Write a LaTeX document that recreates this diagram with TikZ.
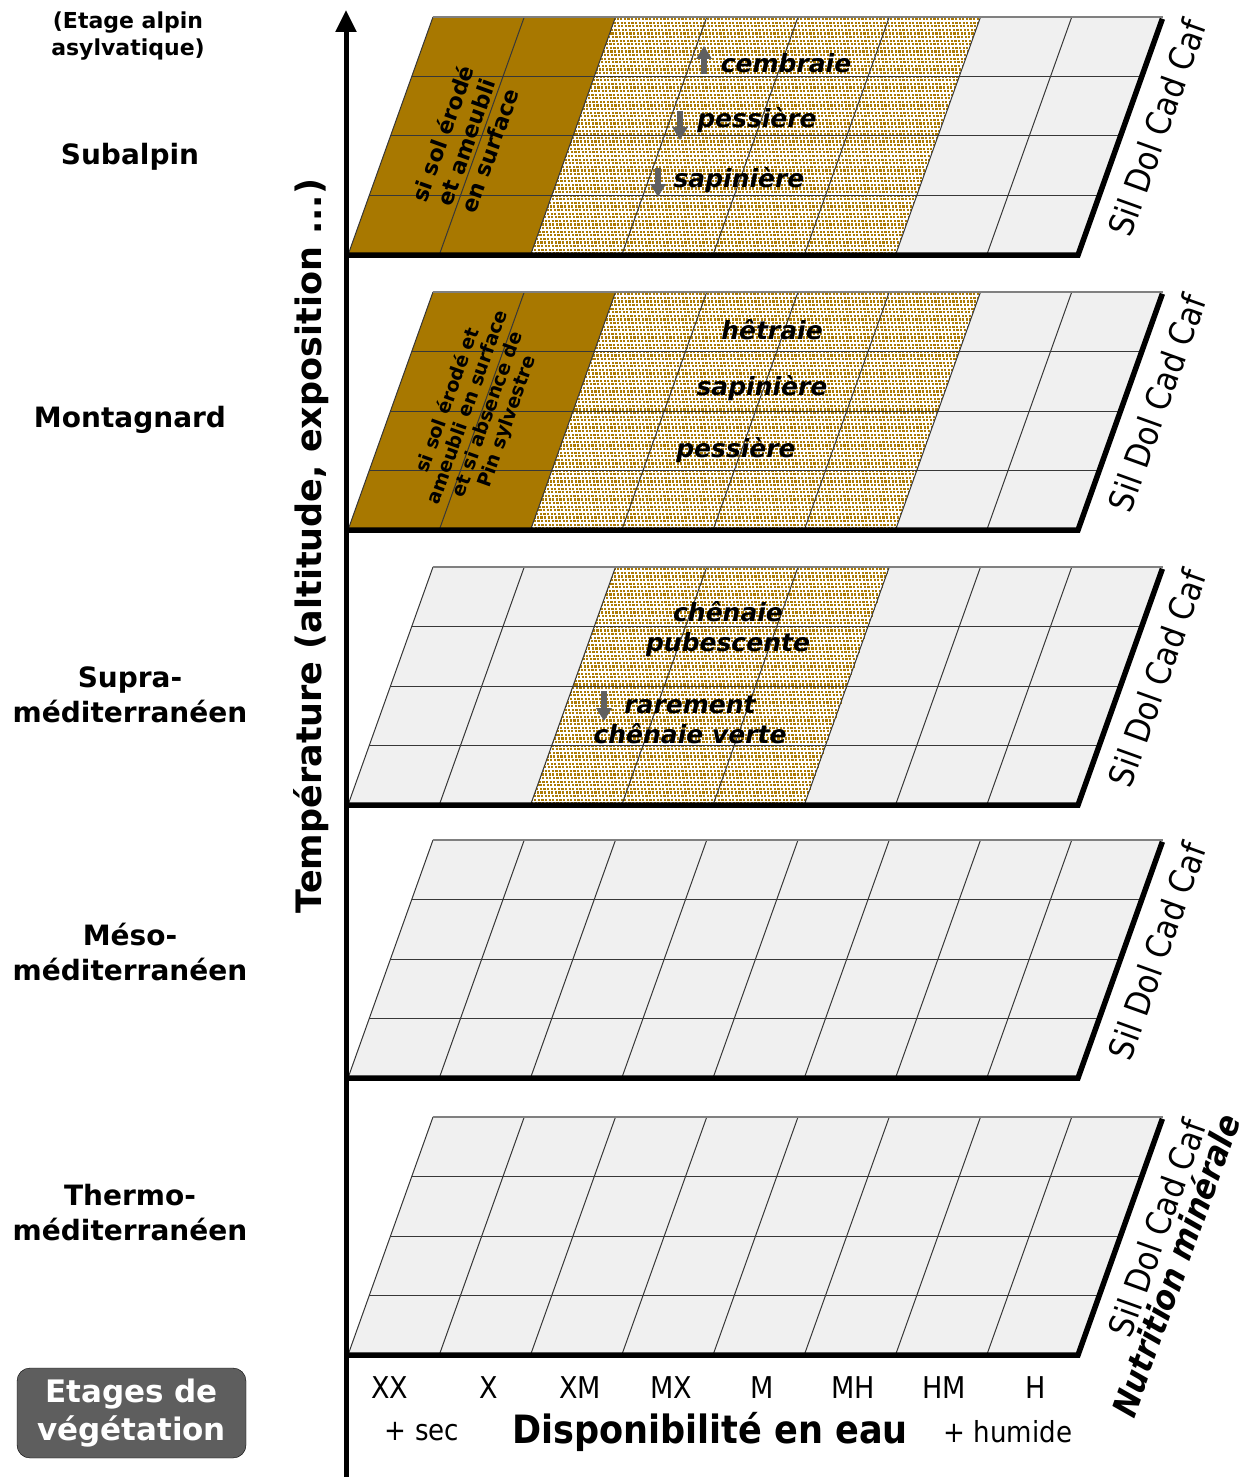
\documentclass[tikz,border=0pt]{standalone}
\usepackage{fontspec}
\setmainfont{DejaVu Sans}[ItalicFont={DejaVu Sans Oblique},BoldItalicFont={DejaVu Sans Bold Oblique}]
\newfontfamily\condfont{DejaVu Sans Condensed}[BoldFont={DejaVu Sans Condensed Bold},ItalicFont={DejaVu Sans Condensed Oblique},BoldItalicFont={DejaVu Sans Condensed Bold Oblique}]
\usetikzlibrary{arrows.meta}
\definecolor{soilbrown}{RGB}{168,120,0}
\definecolor{dotbrown}{RGB}{172,122,4}
\definecolor{cellgray}{RGB}{240,240,240}
\definecolor{gridgray}{RGB}{55,55,55}
\definecolor{arrowgray}{RGB}{96,96,96}
\definecolor{boxgray}{RGB}{94,94,94}
\tikzset{
 cellb/.style={fill=soilbrown},
 celld/.style={fill=white},
 cellg/.style={fill=cellgray},
 dotrow/.style={draw=dotbrown,line width=2.2pt,dash pattern=on 2.2pt off 1.4pt},
 gridline/.style={draw=gridgray,line width=1pt},
 topline/.style={draw=gray,line width=1.5pt},
 edge/.style={draw=black,line width=5.5pt,line join=miter},
 stage/.style={font=\bfseries\fontsize{28}{35}\selectfont,align=center},
 peuplement/.style={font=\bfseries\itshape\fontsize{25}{30}\selectfont,align=center,inner sep=0pt},
 soiltext/.style={align=center,rotate=70.3,inner sep=0pt},
 sens/.style={-{Triangle[width=15pt,length=13pt]},line width=5.5pt,draw=arrowgray},
 classe/.style={font=\condfont\fontsize{30}{32}\selectfont,inner sep=0pt},
 mineral/.style={font=\condfont\fontsize{34}{36}\selectfont,rotate=70.3,inner sep=0pt}
}
\begin{document}
\begin{tikzpicture}[x=1pt,y=-1pt]
\useasboundingbox (0,0) rectangle (1247,1477);
% plateaux (etages) : fonds, pointille, grille
\foreach \yb/\cols/\da/\db [count=\k] in {255/{b,b,d,d,d,d,g,g}/2/6,530/{b,b,d,d,d,d,g,g}/2/6,805/{g,g,d,d,d,g,g,g}/2/5,1078/{g,g,g,g,g,g,g,g}/0/0,1355/{g,g,g,g,g,g,g,g}/0/0}{
 \begin{scope}[shift={(348,\yb)},x={(91.25pt,0pt)},y={(21.25pt,59.5pt)}]
 \foreach \t [count=\i from 0] in \cols
  \path[cell\t] (\i,0) -- ++(1,0) -- ++(0,4) -- ++(-1,0) -- cycle;
 \ifnum\da<\db
  \foreach \r [evaluate=\r as \ph using {mod(\r,2)*1.8}] in {0,...,65}
   \draw[dotrow,dash phase=\ph pt] (\da,{(\r+0.5)*3.6/59.5}) -- (\db,{(\r+0.5)*3.6/59.5});
 \fi
 \foreach \i in {1,...,7} \draw[gridline] (\i,0) -- (\i,4);
 \foreach \r in {1,2,3} \draw[gridline] (0,\r) -- (8,\r);
 \draw[gridline] (0,0) -- (0,4);
 \draw[topline] (0,4) -- (8,4);
 \draw[edge] (0,0) -- (8,0) -- (8,3.97);
 \end{scope}
 \node[mineral] (sdcc\k) at (1157,{\yb-127}) {Sil Dol Cad Caf};
}
% axe vertical
\coordinate (axisbot) at (346,1477);
\coordinate (axistop) at (346,10);
\draw[line width=5pt,-{Triangle[width=20pt,length=22pt]}] (axisbot) -- (axistop);
\node[font=\bfseries\fontsize{35}{40}\selectfont,rotate=90] (temp) at (311,546) {Température (altitude, exposition ...)};
% etages de vegetation
\node[font=\bfseries\fontsize{22}{27}\selectfont,align=center] (alpin) at (128,36) {(Etage alpin\\ asylvatique)};
\node[stage] (subalp) at (130,157) {Subalpin};
\node[stage] (montag) at (130,420) {Montagnard};
\node[stage] (supra) at (130,695) {Supra-\\méditerranéen};
\node[stage] (meso) at (130,952) {Méso-\\méditerranéen};
\node[stage] (thermo) at (130,1213) {Thermo-\\méditerranéen};
\node[draw=black,fill=boxgray,rounded corners=13pt,text=white,font=\bfseries\fontsize{31}{38}\selectfont,align=center,minimum width=229pt,minimum height=90pt] (legende) at (131.5,1413) {Etages de\\végétation};
% subalpin
\node[soiltext,font=\bfseries\fontsize{22}{25}\selectfont] (sol1) at (466,142) {si sol érodé\\et ameubli\\en surface};
\node[peuplement] (cemb) at (786,63) {cembraie};
\node[peuplement] (pess1) at (757,120) {pessière};
\node[peuplement] (sap1) at (739,180) {sapinière};
\coordinate (a1s) at (704,74); \coordinate (a1e) at (704,46);
\coordinate (a2s) at (680,111); \coordinate (a2e) at (680,140);
\coordinate (a3s) at (658,168); \coordinate (a3e) at (658,197);
\draw[sens] (a1s) -- (a1e);
\draw[sens] (a2s) -- (a2e);
\draw[sens] (a3s) -- (a3e);
% montagnard
\node[soiltext,font=\bfseries\fontsize{19}{21}\selectfont] (sol2) at (478,411) {si sol érodé et\\ameubli en surface\\et si absence de\\Pin sylvestre};
\node[peuplement] (hetr) at (772,330) {hêtraie};
\node[peuplement] (sap2) at (762,388) {sapinière};
\node[peuplement] (pess2) at (736,450) {pessière};
% supra-mediterraneen
\node[peuplement] (chpub) at (728,629) {chênaie\\pubescente};
\node[peuplement] (chvert) at (690,720) {rarement\\chênaie verte};
\coordinate (a4s) at (604,691); \coordinate (a4e) at (604,721);
\draw[sens] (a4s) -- (a4e);
% axe horizontal
\foreach \c/\x in {XX/390,X/489,XM/580,MX/671,M/762,MH/853,HM/944,H/1036}
 \node[classe] (cl\c) at (\x,1388) {\c};
\node[classe,font=\condfont\fontsize{29}{32}\selectfont] (sec) at (422,1432) {+ sec};
\node[font=\condfont\bfseries\fontsize{39}{40}\selectfont,inner sep=0pt] (eau) at (710,1432) {Disponibilité en eau};
\node[classe,font=\condfont\fontsize{29}{32}\selectfont] (hum) at (1008,1432) {+ humide};
\node[font=\condfont\bfseries\itshape\fontsize{34}{40}\selectfont,rotate=70.3,inner sep=0pt] (nutri) at (1175,1265) {Nutrition minérale};
\end{tikzpicture}
\end{document}
